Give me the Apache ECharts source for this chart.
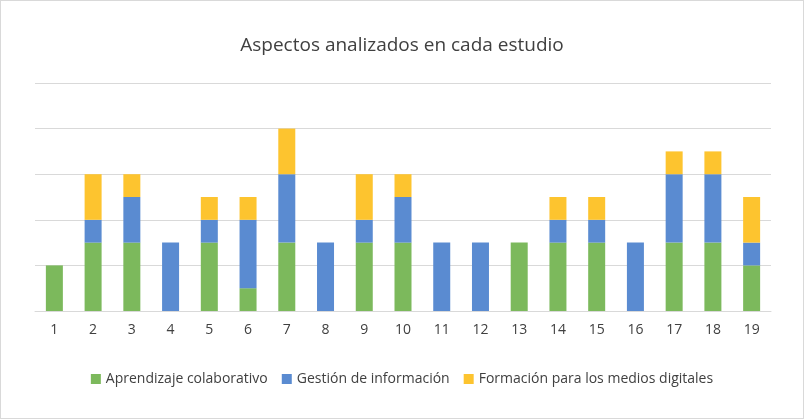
<!DOCTYPE html>
<html><head><meta charset="utf-8">
<script src="https://cdn.jsdelivr.net/npm/echarts@6/dist/echarts.min.js"></script>
<style>html,body{margin:0;padding:0;background:#fff}#c{width:802px;height:417px;border:1px solid #d9d9d9}</style>
</head><body><div id="c"></div>
<script>
var categories = ['1','2','3','4','5','6','7','8','9','10','11','12','13','14','15','16','17','18','19'];
var aprendizaje = [2,3,3,0,3,1,3,0,3,3,0,0,3,3,3,0,3,3,2];
var gestion =     [0,1,2,3,1,3,3,3,1,2,3,3,0,1,1,3,3,3,1];
var formacion =   [0,2,1,0,1,1,2,0,2,1,0,0,0,1,1,0,1,1,2];

var chart = echarts.init(document.getElementById('c'));
function s(name, data, color) {
	return {name: name, type: 'bar', stack: 'a', data: data, barWidth: 17, itemStyle: {color: color}};
}
chart.setOption({
	animation: false,
	title: {text: 'Aspectos analizados en cada estudio', left: 'center', top: 30,
		textStyle: {fontFamily: 'Open Sans', fontWeight: 'normal', fontSize: 19, color: '#404040'}},
	grid: {left: 34, right: 32, top: 82, bottom: 107},
	legend: {bottom: 27, itemWidth: 10, itemHeight: 10, itemGap: 14, icon: 'rect',
		textStyle: {fontFamily: 'Open Sans', fontSize: 14, color: '#404040'}},
	xAxis: {type: 'category', data: categories, axisTick: {show: false},
		axisLine: {lineStyle: {color: '#d9d9d9'}},
		axisLabel: {fontFamily: 'Open Sans', fontSize: 14, color: '#404040', margin: 12}},
	yAxis: {type: 'value', min: 0, max: 10, interval: 2, axisLabel: {show: false},
		splitLine: {lineStyle: {color: '#d9d9d9'}}},
	series: [
		s('Aprendizaje colaborativo', aprendizaje, '#7cb95c'),
		s('Gestión de información', gestion, '#5a8bd1'),
		s('Formación para los medios digitales', formacion, '#fdc42f')
	]
});
</script></body></html>
